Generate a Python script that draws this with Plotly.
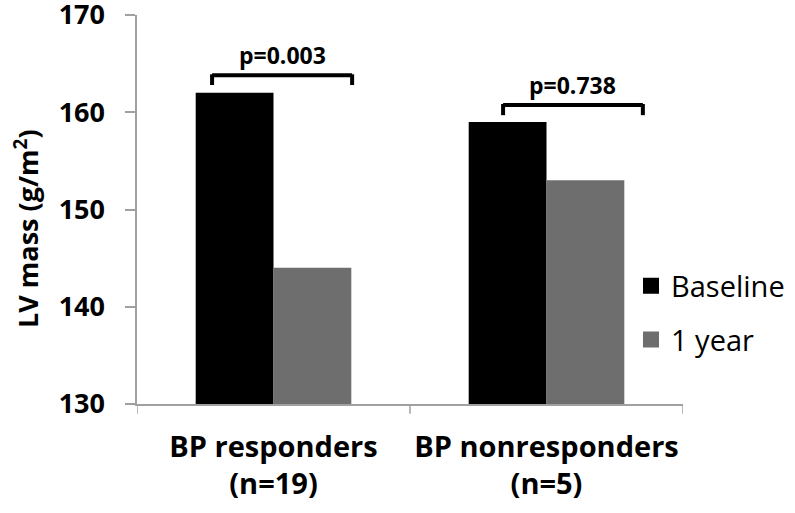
import plotly.graph_objects as go

categories = ["BP responders<br>(n=19)", "BP nonresponders<br>(n=5)"]
baseline = [162, 159]
one_year = [144, 153]
series_names = ["Baseline", "1 year"]
series_colors = ["#000000", "#6e6e6e"]
p_labels = ["p=0.003", "p=0.738"]
y_ticks = [130, 140, 150, 160, 170]
y_title = "LV mass (g/m<sup>2</sup>)"

FONT = "Open Sans"

fig = go.Figure()
fig.add_trace(go.Bar(x=[0, 1], y=baseline, name=series_names[0], showlegend=False,
                     marker=dict(color=series_colors[0], line=dict(width=0))))
fig.add_trace(go.Bar(x=[0, 1], y=one_year, name=series_names[1], showlegend=False,
                     marker=dict(color=series_colors[1], line=dict(width=0))))
# invisible trace to carry the tick-label axis
fig.add_trace(go.Scatter(x=[None], y=[None], yaxis="y2", showlegend=False, hoverinfo="skip"))
# legend entries with larger square swatches
for i, (nm, col) in enumerate(zip(series_names, series_colors)):
    fig.add_trace(go.Scatter(x=[None], y=[None], mode="markers", name=nm, legendgroup="g%d" % i,
                             marker=dict(symbol="square", size=17, color=col)))

# significance brackets
brackets = [(-0.225, 0.288, 163.8, 162.8), (0.841, 1.353, 160.75, 159.7)]
for (x0, x1, ytop, ybot), lab in zip(brackets, p_labels):
    fig.add_shape(type="line", x0=x0, x1=x1, y0=ytop, y1=ytop, line=dict(color="black", width=4))
    fig.add_shape(type="line", x0=x0, x1=x0, y0=ytop + 0.1, y1=ybot, line=dict(color="black", width=4))
    fig.add_shape(type="line", x0=x1, x1=x1, y0=ytop + 0.1, y1=ybot, line=dict(color="black", width=4))
    fig.add_annotation(x=(x0 + x1) / 2, y=ytop, text="<b>" + lab + "</b>", showarrow=False,
                       yanchor="bottom", yshift=2, font=dict(family=FONT, size=23, color="black"))

# y-axis title as rotated annotation
fig.add_annotation(xref="paper", yref="paper", x=-0.1252, y=0.45, text="<b>" + y_title + "</b>",
                   textangle=-90, showarrow=False, xanchor="center", yanchor="middle",
                   font=dict(family=FONT, size=27, color="black"))

fig.update_layout(
    width=795, height=513,
    margin=dict(l=100, r=112, t=15, b=109, autoexpand=False),
    plot_bgcolor="white", paper_bgcolor="white",
    barmode="group", bargap=0.43, bargroupgap=0,
    font=dict(family=FONT, color="black"),
    showlegend=True,
    legend=dict(x=0.9108, y=0.234, xanchor="left", yanchor="middle",
                font=dict(family=FONT, size=29, color="black"),
                bgcolor="rgba(0,0,0,0)", itemwidth=30, traceorder="grouped", tracegroupgap=13),
    xaxis=dict(tickmode="array", tickvals=[0, 1], automargin=False, domain=[0.06346, 1],
               ticktext=["<b>" + c.replace("<br>", "</b><br><b>") + "</b>" for c in categories],
               range=[-0.5, 1.5], showline=True, linecolor="#a0a0a0", linewidth=1.5,
               ticks="", ticklabelstandoff=16,
               tickfont=dict(family=FONT, size=29, color="black"), showgrid=False, zeroline=False),
    yaxis=dict(range=[130, 170], tickvals=y_ticks, showticklabels=False,
               automargin=False,
               showline=True, linecolor="#a0a0a0", linewidth=1.5, ticks="outside", ticklen=10,
               tickcolor="#a0a0a0", tickwidth=1.5,
               showgrid=False, zeroline=False),
    yaxis2=dict(range=[130, 170], tickvals=y_ticks, ticktext=["<b>%d</b>" % v for v in y_ticks],
                overlaying="y", anchor="free", side="left", position=0.00858,
                automargin=False, showline=False, ticks="", ticklabeloverflow="allow",
                tickfont=dict(family=FONT, size=27, color="black"),
                showgrid=False, zeroline=False),
)

# category divider ticks on x axis
for xv in [-0.5, 0.5, 1.5]:
    fig.add_shape(type="line", xref="x", yref="paper", x0=xv, x1=xv, y0=0, y1=-0.025,
                  line=dict(color="#a0a0a0", width=1.5))

fig.write_html("out.html")
